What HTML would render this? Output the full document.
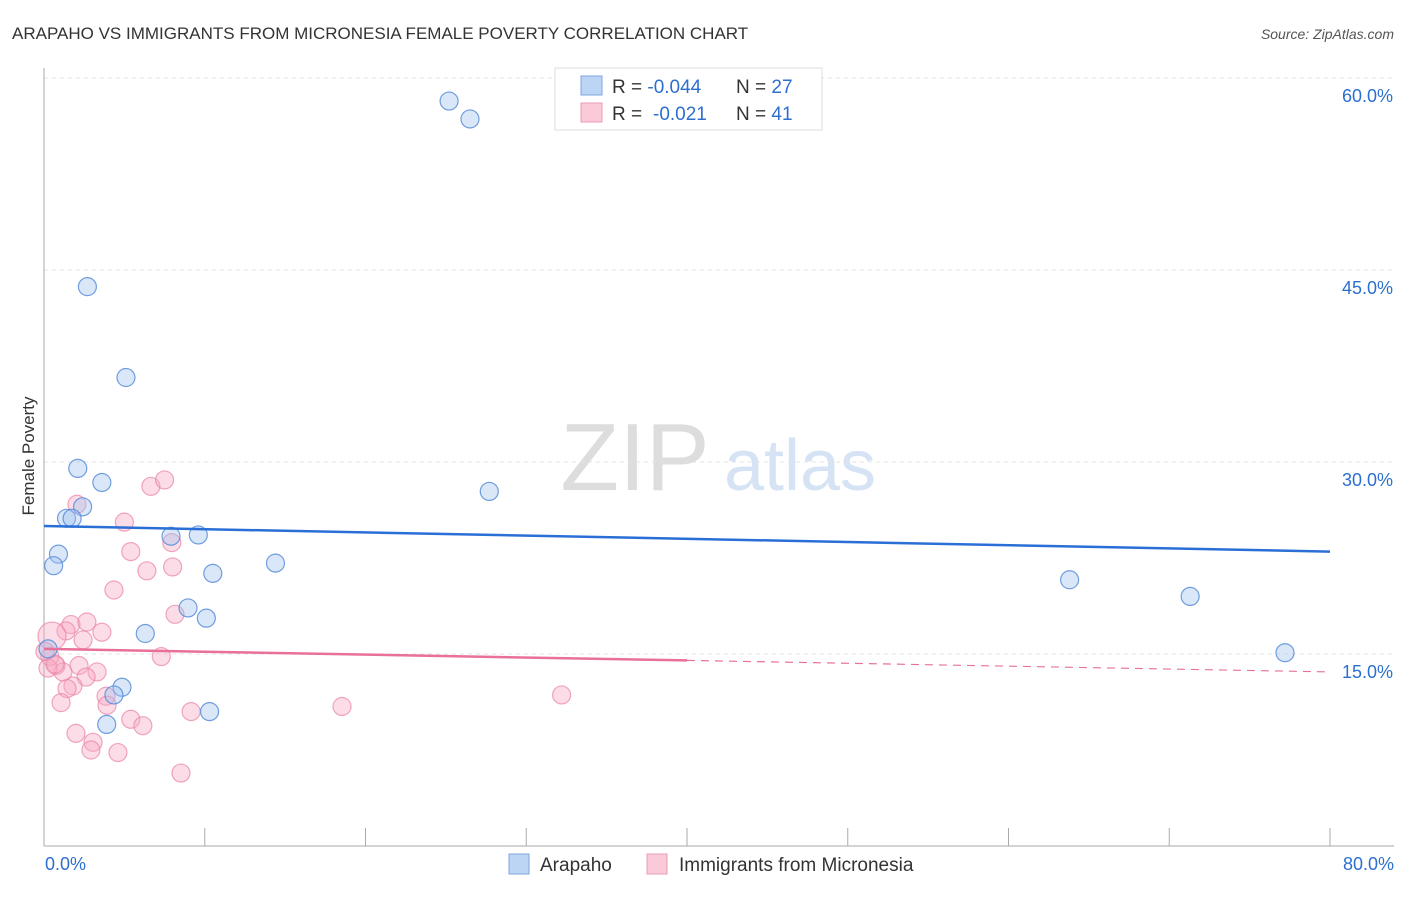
<!DOCTYPE html>
<html><head><meta charset="utf-8"><style>
body{margin:0;background:#fff;font-family:"Liberation Sans",sans-serif;}
svg text{font-family:"Liberation Sans",sans-serif;}
</style></head><body>
<svg id="c" width="1406" height="892">
<text x="12" y="39" font-size="17" fill="#333">ARAPAHO VS IMMIGRANTS FROM MICRONESIA FEMALE POVERTY CORRELATION CHART</text>
<text x="1394" y="39" font-size="14" fill="#555" font-style="italic" text-anchor="end">Source: ZipAtlas.com</text>
<text x="34" y="456" font-size="17" fill="#333" transform="rotate(-90 34 456)" text-anchor="middle">Female Poverty</text>
<text x="635" y="490" font-size="96" fill="#ddd" font-family="Liberation Serif" text-anchor="middle">ZIP</text>
<text x="800" y="490" font-size="72" fill="#d5e3f5" text-anchor="middle">atlas</text>
<g id="grid"></g><g id="axes"></g><g id="pts"></g><g id="trend"></g>
<g>
<rect x="555" y="68" width="267" height="62" fill="#fff" stroke="#ddd"/>
<rect x="581" y="76" width="21" height="19" fill="#bcd5f5" stroke="#7aa6e0"/>
<text x="612" y="93" font-size="19" fill="#333">R = <tspan fill="#2d6fd0">-0.044</tspan><tspan x="736">N = </tspan><tspan fill="#2d6fd0">27</tspan></text>
<rect x="581" y="103" width="21" height="19" fill="#fbcad8" stroke="#eb9ab4"/>
<text x="612" y="120" font-size="19" fill="#333">R = <tspan x="653" fill="#2d6fd0">-0.021</tspan><tspan x="736">N = </tspan><tspan fill="#2d6fd0">41</tspan></text>
</g>
<g>
<rect x="509" y="854" width="20" height="20" fill="#bcd5f5" stroke="#7aa6e0"/>
<text x="540" y="871" font-size="19" fill="#333">Arapaho</text>
<rect x="647" y="854" width="20" height="20" fill="#fbcad8" stroke="#eb9ab4"/>
<text x="679" y="871" font-size="19" fill="#333">Immigrants from Micronesia</text>
</g>
</svg>
<script>
const xTicks=[0,10,20,30,40,50,60,70,80];
const yTicks=[15,30,45,60];
const blueX=[25.2,26.5,2.7,5.1,2.1,3.6,2.4,1.4,1.75,0.9,0.6,7.9,9.6,10.5,14.4,27.7,8.96,10.1,6.3,4.85,4.35,3.9,10.3,63.8,71.3,77.2,0.25];
const blueY=[58.2,56.8,43.7,36.6,29.5,28.4,26.5,25.6,25.6,22.8,21.9,24.2,24.3,21.3,22.1,27.7,18.6,17.8,16.6,12.4,11.8,9.5,10.5,20.8,19.5,15.1,15.4];
const pinkX=[6.65,7.5,2.05,5.0,7.95,5.4,6.4,8.0,4.35,8.15,1.68,2.67,1.37,2.43,3.6,0.5,7.3,0.75,0.37,1.18,2.18,3.3,2.62,1.8,1.43,3.86,3.92,1.06,9.15,5.4,6.15,1.99,3.05,2.92,4.6,8.52,18.54,32.2,0.06,0.25,0.68];
const pinkY=[28.1,28.6,26.7,25.3,23.7,23.0,21.5,21.8,20.0,18.1,17.3,17.5,16.8,16.1,16.7,16.4,14.8,14.1,14.8,13.6,14.1,13.6,13.2,12.5,12.3,11.7,11.0,11.2,10.5,9.9,9.4,8.8,8.1,7.5,7.3,5.7,10.9,11.8,15.2,13.9,14.2];
const blueTrend=[25.0,23.0];
const pinkTrend=[15.4,13.6];
const X=v=>44+v/80*1286, Y=v=>846-v*12.8;
const NS="http://www.w3.org/2000/svg";
function mk(p,t,a){const e=document.createElementNS(NS,t);for(const k in a)e.setAttribute(k,a[k]);document.getElementById(p).appendChild(e);return e;}
yTicks.forEach(v=>{
 const l=mk('grid','line',{x1:44,x2:1394,y1:Y(v),y2:Y(v),stroke:'#e3e3e3','stroke-dasharray':'4,4'});
 
 
 const t=mk('grid','text',{x:1393,y:Y(v)+24,'font-size':18,fill:'#2d6fd0','text-anchor':'end'});t.textContent=v.toFixed(1)+'%';
 
 
});
let a=mk('axes','line',{x1:44,x2:44,y1:68,y2:846,stroke:'#aaa'});


a=mk('axes','line',{x1:44,x2:1394,y1:846,y2:846,stroke:'#aaa'});


xTicks.forEach(v=>{const t=mk('axes','line',{x1:X(v),x2:X(v),y1:828,y2:846,stroke:'#aaa'});
 
 });
[[0,'start',45],[80,'end',1394]].forEach(([v,an,x])=>{const t=mk('axes','text',{x:x,y:870,'font-size':18,fill:'#2d6fd0','text-anchor':an});t.textContent=v.toFixed(1)+'%';
 
 });
pinkX.forEach((v,i)=>{const c=mk('pts','circle',{cx:X(v),cy:Y(pinkY[i]),r:i==15?14:9,fill:'rgba(248,170,195,0.4)',stroke:'rgba(232,130,165,0.7)','stroke-width':1.2});
 
 });
blueX.forEach((v,i)=>{const c=mk('pts','circle',{cx:X(v),cy:Y(blueY[i]),r:9,fill:'rgba(160,195,240,0.4)',stroke:'rgba(80,135,215,0.8)','stroke-width':1.2});
 
 });
let t=mk('trend','line',{x1:X(0),x2:X(80),y1:Y(blueTrend[0]),y2:Y(blueTrend[1]),stroke:'#2a6fd6','stroke-width':2.5});


const pm=pinkTrend[0]+(pinkTrend[1]-pinkTrend[0])*0.5;
t=mk('trend','line',{x1:X(0),x2:X(40),y1:Y(pinkTrend[0]),y2:Y(pm),stroke:'#e8709a','stroke-width':2.5});


t=mk('trend','line',{x1:X(40),x2:X(80),y1:Y(pm),y2:Y(pinkTrend[1]),stroke:'#e8709a','stroke-width':1.2,'stroke-dasharray':'8,6'});


</script>
</body></html>
